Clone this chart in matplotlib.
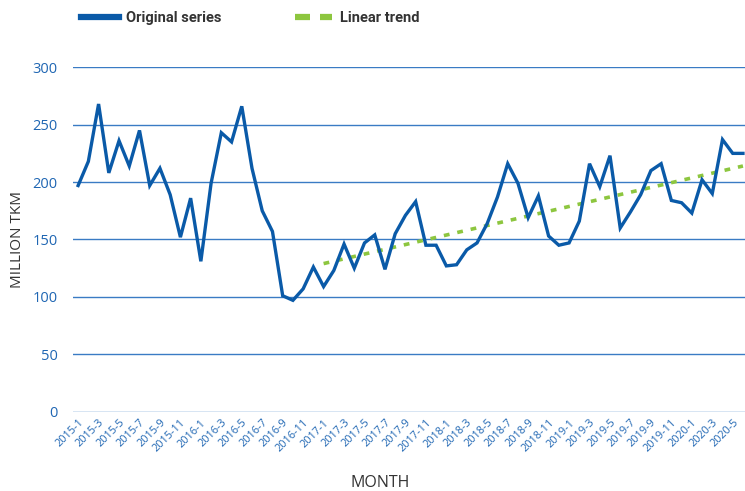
import matplotlib
matplotlib.use("Agg")
import matplotlib.pyplot as plt
from matplotlib.lines import Line2D

# monthly traffic, 2015-1 .. 2020-6 (million tonne-km)
months = [f"{y}-{m}" for y in range(2015, 2021) for m in range(1, 13)][:66]
traffic = [197, 218, 268, 208, 236, 214, 245, 197, 212, 189, 152, 186,
           131, 199, 243, 235, 266, 212, 175, 157, 101, 97, 107, 126,
           109, 123, 146, 125, 147, 154, 124, 155, 171, 183, 145, 145,
           127, 128, 141, 147, 164, 187, 216, 199, 169, 188, 153, 145,
           147, 166, 216, 196, 223, 160, 174, 189, 210, 216, 184, 182,
           173, 202, 190, 237, 225, 225]

# linear trend from 2017-1 to the last month
trend_idx = [24, 65]
trend_val = [129, 214]

yticks = [0, 50, 100, 150, 200, 250, 300]

blue = "#0a5aa8"
tick_blue = "#1f66b3"
grid_blue = "#3a7bc4"
green = "#8dc63f"
dark = "#333333"
font = "Open Sans"

fig = plt.figure(figsize=(7.45, 4.91), dpi=100)
ax = fig.add_axes([0.098, 0.1615, 0.902, 0.7015])

x = list(range(len(traffic)))
ax.plot(x, traffic, color=blue, lw=2.4, solid_joinstyle="miter", zorder=3)
ax.plot(trend_idx, trend_val, color=green, lw=2.6, ls=(0, (1.6, 2.2)), zorder=2)

ax.set_xlim(-0.5, 65.2)
ax.set_ylim(0, 300)
ax.set_yticks(yticks)
ax.set_yticklabels([str(v) for v in yticks], color=tick_blue, fontsize=10.5, family=font)
ax.yaxis.grid(True, color=grid_blue, lw=1)
ax.set_axisbelow(True)
ax.tick_params(axis="y", length=0, pad=11)

ax.set_xticks(x[::2])
ax.set_xticklabels(months[::2], rotation=45, ha="right", rotation_mode="anchor",
                   color=tick_blue, fontsize=7.8, family=font)
ax.tick_params(axis="x", length=0, pad=4)

for s in ax.spines.values():
    s.set_visible(False)

ax.set_ylabel("MILLION TKM", color=dark, fontsize=11, family=font)
ax.yaxis.set_label_coords(-0.072, 0.5)
ax.set_xlabel("MONTH", color=dark, fontsize=11.5, family=font)
ax.xaxis.set_label_coords(0.457, -0.185)

handles = [Line2D([], [], color=blue, lw=4.5),
           Line2D([], [], color=green, lw=4.5, ls=(0, (2.4, 1.6)))]
fig.legend(handles, ["Original series", "Linear trend"], loc="upper left",
           bbox_to_anchor=(0.091, 1.004), ncol=2, frameon=False, handlelength=2.6,
           columnspacing=5.0, handletextpad=0.5,
           prop={"family": "Roboto", "weight": "bold", "size": 10.5})
for t in fig.legends[0].get_texts():
    t.set_color(dark)

fig.savefig("out.png", dpi=100)
